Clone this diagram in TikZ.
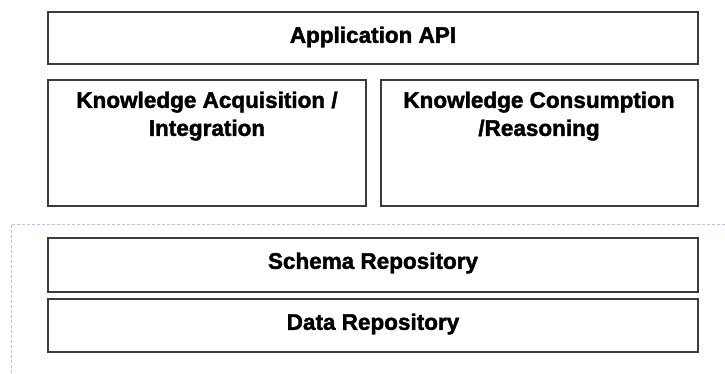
\documentclass[tikz,border=0pt]{standalone}
\usepackage{fontspec}
\setmainfont{Liberation Sans}
\newfontfamily\heavyfont[FakeBold=1.8]{Liberation Sans Bold}
\definecolor{framecol}{RGB}{190,190,240}
\definecolor{edgecol}{RGB}{60,60,60}
\begin{document}
\begin{tikzpicture}[x=1pt,y=-1pt,
  layer/.style={draw=edgecol, line width=1.1pt, fill=white},
  lbl/.style={font=\heavyfont\fontsize{22.5}{28}\selectfont, align=center, text=black},
  frame/.style={draw=framecol, dash pattern=on 3pt off 2pt, line width=0.9pt}]
\useasboundingbox (0,0) rectangle (725,373);
\draw[frame] (11,373) -- (11,224) -- (725,224);
\draw[layer] (48,12) rectangle (698,64);
\node[lbl] (api) at (373,37) {Application API};
\draw[layer] (48,80) rectangle (366,206);
\node[lbl, anchor=north] (acq) at (207,88) {Knowledge Acquisition /\\Integration};
\draw[layer] (381,80) rectangle (698,206);
\node[lbl, anchor=north] (cons) at (539,88) {Knowledge Consumption\\/Reasoning};
\draw[layer] (48,238) rectangle (698,292);
\node[lbl] (schema) at (373,263) {Schema Repository};
\draw[layer] (48,299) rectangle (698,352);
\node[lbl] (data) at (373,324) {Data Repository};
\end{tikzpicture}
\end{document}
